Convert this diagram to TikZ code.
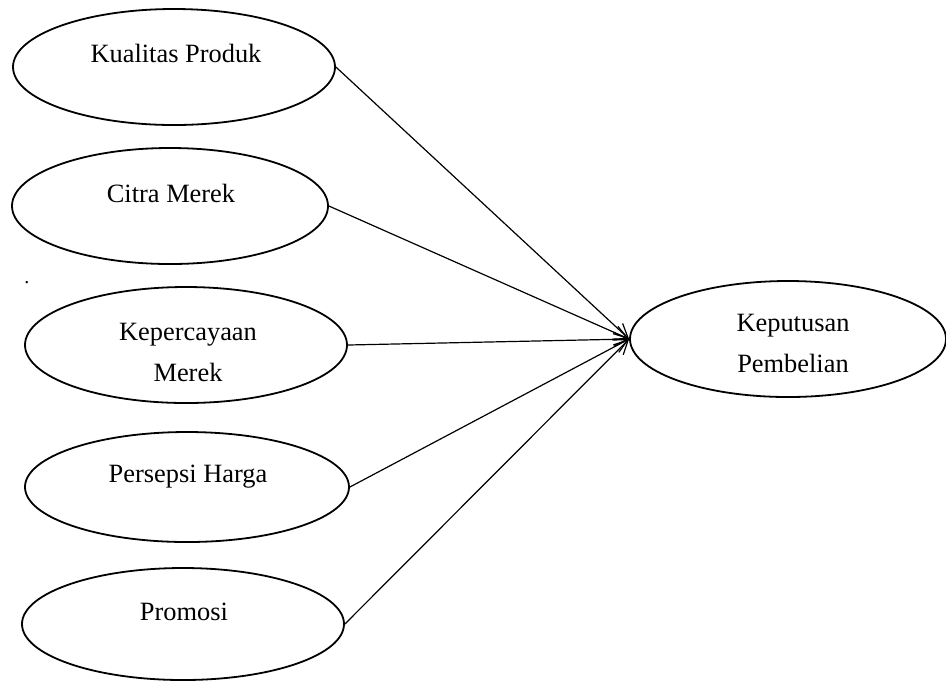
\documentclass[tikz,border=0pt]{standalone}
\usepackage{fontspec}
\setmainfont{Liberation Serif}
\usetikzlibrary{shapes.geometric,arrows.meta}

\begin{document}
\begin{tikzpicture}[x=0.5pt,y=-0.5pt,
  var/.style={ellipse,draw,line width=0.9pt,inner sep=0pt,minimum width=161pt,minimum height=58pt},
  lbl/.style={align=center,font=\fontsize{13.2}{20.5}\selectfont},
  arr/.style={-{Straight Barb[length=7pt,width=7pt]},line width=0.6pt}]
\useasboundingbox (0,0) rectangle (946,682);
\node[var] (kp) at (174,67) {};
\node[lbl] (kp-t) at (176,53) {Kualitas Produk};
\node[var,minimum width=158pt] (cm) at (170,206) {};
\node[lbl] (cm-t) at (171,193) {Citra Merek};
\node (dot) at (27,283) {.};
\node[var] (km) at (186,345) {};
\node[lbl] (km-t) at (188,352) {Kepercayaan\\Merek};
\node[var,minimum width=162pt,minimum height=55pt] (ph) at (187,487) {};
\node[lbl] (ph-t) at (188,477) {Persepsi Harga};
\node[var,minimum height=56pt] (pr) at (183,624) {};
\node[lbl] (pr-t) at (184,612) {Promosi};
\node[var,minimum width=158pt] (kpb) at (788,339) {};
\node[lbl] (kpb-t) at (793,343) {Keputusan\\Pembelian};
\draw[arr] (kp.east) -- (kpb.west);
\draw[arr] (cm.east) -- (kpb.west);
\draw[arr] (km.east) -- (kpb.west);
\draw[arr] (ph.east) -- (kpb.west);
\draw[arr] (pr.east) -- (kpb.west);
\end{tikzpicture}
\end{document}
